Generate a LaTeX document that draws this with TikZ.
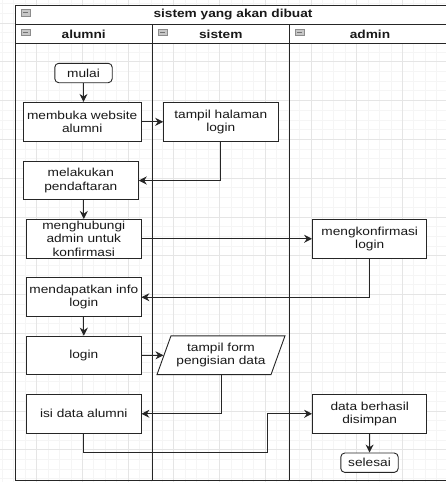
\documentclass[tikz,border=0pt]{standalone}
\usepackage{fontspec}
\setmainfont{Liberation Sans}[FakeStretch=1.18]
\usetikzlibrary{
  arrows.meta,
  shapes.geometric
  }

\begin{document}
\begin{tikzpicture}[x=1pt, y=-1pt]
  \tikzstyle{every node}=[font=\fontsize{11.6}{13.4}\selectfont, text=black!90]
  \tikzstyle{kotak}=[draw=black!85, line width=0.9pt, fill=white, minimum width=114.3pt, minimum height=38.8pt, inner sep=0pt, align=center]
  \tikzstyle{bulat}=[kotak, rounded corners=4pt, minimum width=57.4pt, minimum height=19.4pt]
  \tikzstyle{jajar}=[kotak, trapezium, trapezium left angle=60, trapezium right angle=120, trapezium stretches body, minimum width=128pt]
  \tikzstyle{panah}=[draw=black!85, line width=0.9pt, -{Stealth[length=8pt, width=8pt]}]
  \tikzstyle{garis}=[draw=black!85, line width=1pt]
  \tikzstyle{gridkecil}=[draw=black!4, line width=0.8pt]
  \tikzstyle{gridbesar}=[draw=black!10, line width=0.8pt]
  \tikzstyle{judul}=[font=\fontsize{11.6}{13.4}\selectfont\bfseries]
  \useasboundingbox (0,0) rectangle (446,482);
  \clip (0,0) rectangle (446,482);
  \fill[white] (0,0) rectangle (446,482);
  % grid
  \foreach \n in {0,...,38}
    \draw[gridkecil] ({2.43+11.4286*\n},0) -- ({2.43+11.4286*\n},482);
  \foreach \m in {0,...,49}
    \draw[gridkecil] (0,{3.5+9.7*\m}) -- (446,{3.5+9.7*\m});
  \foreach \n in {3,7,...,35}
    \draw[gridbesar] ({2.43+11.4286*\n},0) -- ({2.43+11.4286*\n},482);
  \foreach \m in {2,6,...,46}
    \draw[gridbesar] (0,{3.5+9.7*\m}) -- (446,{3.5+9.7*\m});
  %
  % pool dan lane
  \fill[white] (15,5) rectangle (451,43.8);
  \draw[garis] (15,5) rectangle (451,480.7);
  \draw[garis] (15,24.4) -- (451,24.4);
  \draw[garis] (15,43.8) -- (451,43.8);
  \draw[garis] (152.3,24.4) -- (152.3,480.7);
  \draw[garis] (289.3,24.4) -- (289.3,480.7);
  \foreach \x/\y in {15/9.6, 15/29, 152.3/29, 289.3/29}{
    \draw[draw=black!45, fill=black!22, line width=0.6pt] (\x+6,\y) rectangle ++(9,6.5);
    \draw[draw=black!55, line width=1.2pt] (\x+8,\y+3.25) -- ++(5,0);
  }
  \node[judul] (pool) at (233,14.7) {sistem yang akan dibuat};
  \node[judul] (alumni) at (83.7,34.1) {alumni};
  \node[judul] (sistem) at (220.8,34.1) {sistem};
  \node[judul] (admin) at (370,34.1) {admin};
  %
  % langkah
  \node[bulat] (mulai) at (83.5,73) {mulai};
  \node[kotak, minimum width=117.7pt] (membuka) at (82.2,121.8) {membuka website\\alumni};
  \node[kotak] (halaman) at (220.8,121.8) {tampil halaman\\login};
  \node[kotak, minimum width=115pt] (daftar) at (80.8,180.5) {melakukan\\pendaftaran};
  \node[kotak] (hubungi) at (83.8,238.8) {menghubungi\\admin untuk\\konfirmasi};
  \node[kotak] (konfirmasi) at (369.7,238.8) {mengkonfirmasi\\login};
  \node[kotak] (info) at (83.8,297.2) {mendapatkan info\\login};
  \node[kotak] (login) at (83.8,355.5) {login};
  \node[jajar] (form) at (221,355.2) {tampil form\\pengisian data};
  \node[kotak] (isi) at (83.8,413.8) {isi data alumni};
  \node[kotak] (simpan) at (369.7,413.8) {data berhasil\\disimpan};
  \node[bulat] (selesai) at (369.5,462.7) {selesai};
  \coordinate (belok) at (267,452.6);
  %
  \draw[panah] (mulai) -- (mulai |- membuka.north);
  \draw[panah] (membuka) -- (halaman);
  \draw[panah] (halaman.south) |- (daftar.east);
  \draw[panah] (hubungi.north |- daftar.south) -- (hubungi.north);
  \draw[panah] (hubungi) -- (konfirmasi);
  \draw[panah] (konfirmasi.south) |- (info.east);
  \draw[panah] (info) -- (login);
  \draw[panah] (login) -- (form);
  \draw[panah] (form.south) |- (isi.east);
  \draw[panah] (isi.south) |- (belok) |- (simpan.west);
  \draw[panah] (simpan) -- (selesai);
\end{tikzpicture}
\end{document}
